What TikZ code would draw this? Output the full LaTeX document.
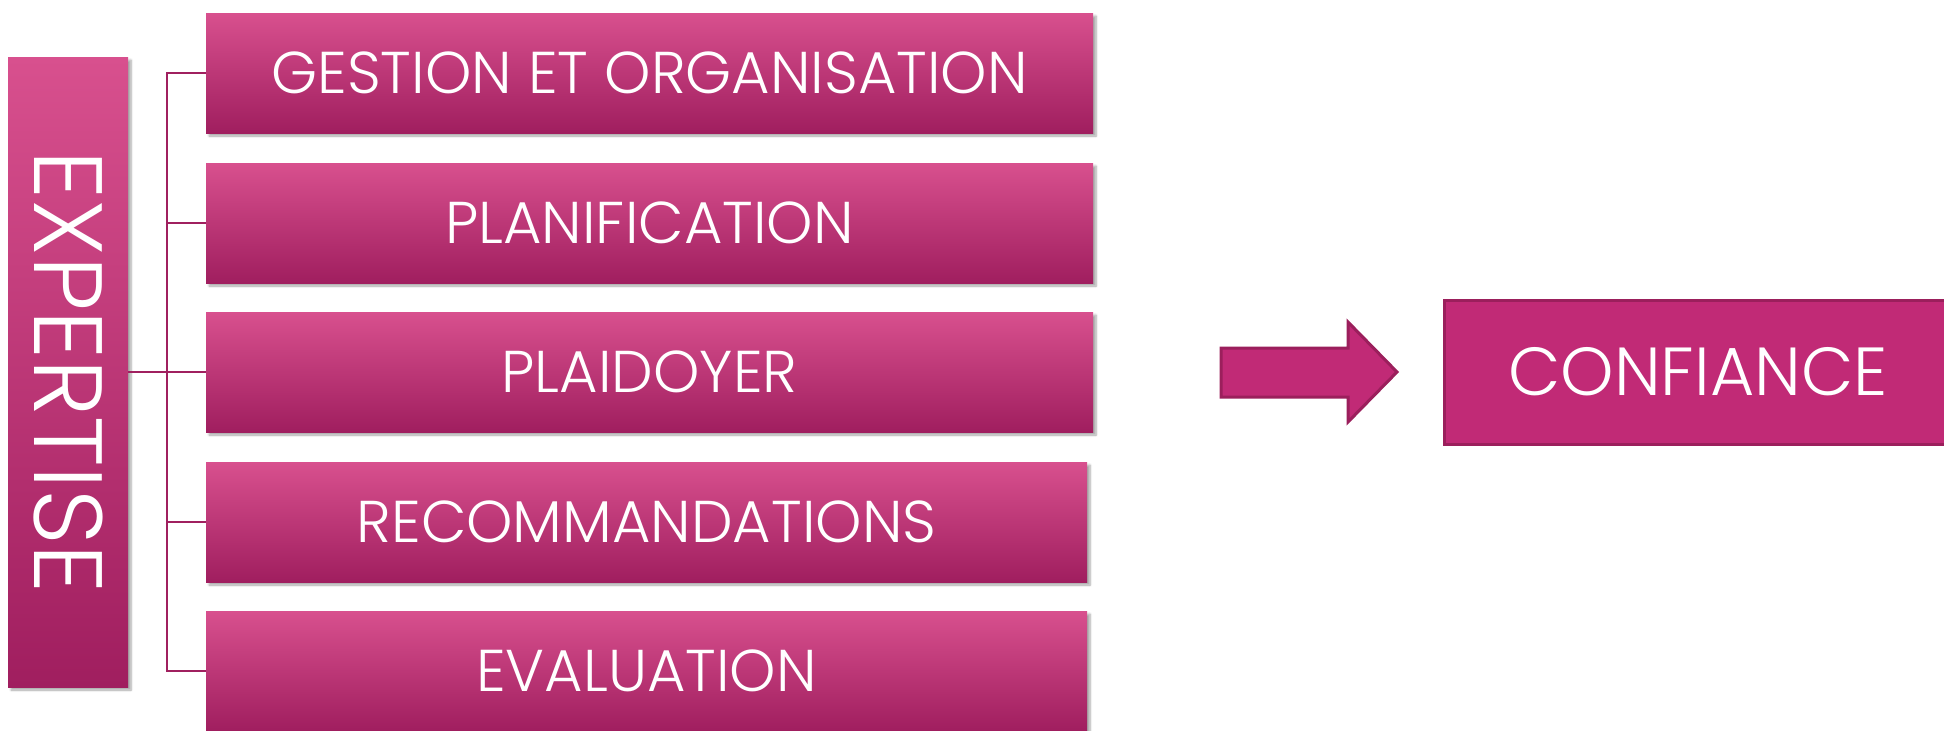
\documentclass[tikz,border=0pt]{standalone}
\usepackage{fontspec}
\setmainfont{Poppins}[UprightFont=* Light]
\usetikzlibrary{shadows.blur,calc}
\definecolor{gtop}{HTML}{D8508E}
\definecolor{gbot}{HTML}{A01E5F}
\definecolor{linec}{HTML}{A0205F}
\definecolor{conf}{HTML}{C12A76}
\definecolor{confb}{HTML}{9B1F5C}
\tikzset{
  gbox/.style={rectangle, inner sep=0pt, top color=gtop, bottom color=gbot, draw=none,
    text=white, font=\fontsize{59}{62}\selectfont,
    blur shadow={shadow xshift=3pt, shadow yshift=-3pt, shadow blur steps=6, shadow blur extra rounding=0pt, shadow opacity=35}},
  conn/.style={draw=linec, line width=2pt},
}
\begin{document}
\begin{tikzpicture}[x=1pt,y=-1pt]
\useasboundingbox (0,0) rectangle (1944,731);
% EXPERTISE
\node[gbox, minimum width=120pt, minimum height=630pt] (exp) at (68,372) {};
\node[text=white, rotate=-90, font=\fontsize{97}{100}\selectfont, inner sep=0pt] (expt) at (exp.center) {EXPERTISE};
% boxes
\node[gbox, minimum width=887pt, minimum height=120pt] (b1) at (649.5,73) {GESTION ET ORGANISATION};
\node[gbox, minimum width=887pt, minimum height=120pt] (b2) at (649.5,223) {PLANIFICATION};
\node[gbox, minimum width=887pt, minimum height=120pt] (b3) at (649.5,372) {PLAIDOYER};
\node[gbox, minimum width=881pt, minimum height=120pt] (b4) at (646.5,522) {RECOMMANDATIONS};
\node[gbox, minimum width=881pt, minimum height=120pt] (b5) at (646.5,671) {EVALUATION};
% connectors
\coordinate (spine) at (167,372);
\draw[conn] (exp.east) -- (spine);
\draw[conn] (spine) |- (b1.west);
\draw[conn] (spine) |- (b2.west);
\draw[conn] (spine) -- (b3.west);
\draw[conn] (spine) |- (b4.west);
\draw[conn] (spine) |- (b5.west);
% block arrow
\draw[fill=conf, draw=confb, line width=3pt, line join=miter]
  (1221,348) -- (1348,348) -- (1348,322) -- (1397,372) -- (1348,422) -- (1348,397) -- (1221,397) -- cycle;
% CONFIANCE
\node[rectangle, fill=conf, draw=confb, line width=3pt, minimum width=508pt, minimum height=144pt,
  text=white, font=\fontsize{68}{70}\selectfont, inner sep=0pt] (conf) at (1698,372) {CONFIANCE};
\end{tikzpicture}
\end{document}
